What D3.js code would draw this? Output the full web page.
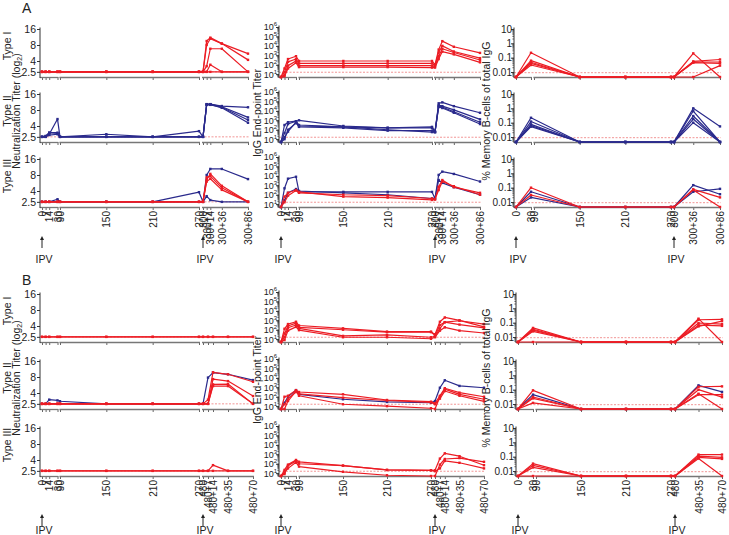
<!DOCTYPE html>
<html><head><meta charset="utf-8">
<script src="https://cdn.jsdelivr.net/npm/d3@7"></script>
<style>
body{margin:0;background:#fff;}
text{font-family:"Liberation Sans",Arial,sans-serif;fill:#222;}
</style></head><body>
<svg id="c" width="729" height="535"></svg>
<script>
// ---------------- DATA ----------------
const daysA = [0,7,14,30,90,150,210,270,300,307,314,336,386];
const labelsA = ["0","7","14","30","90","150","210","270","300","300+7","300+14","300+36","300+86"];
const daysB = [0,7,14,30,90,150,210,270,480,487,494,515,550];
const labelsB = ["0","7","14","30","90","150","210","270","480","480+7","480+14","480+35","480+70"];
const memDaysA = [0,30,150,210,270,300,336,386];
const memTicksA = [0,30,90,150,210,270,300,336,386];
const memLabelsA = ["0","30","90","150","210","270","300","300+36","300+86"];
const memDaysB = [0,30,150,210,270,480,515,550];
const memTicksB = [0,30,90,150,210,270,480,515,550];
const memLabelsB = ["0","30","90","150","210","270","480","480+35","480+70"];
const rowNames = ["Type I","Type II","Type III"];
const neutTicks = [2.5,4,8,16];
const iggTicks = [1e1,1e2,1e3,1e4,1e5,1e6];
const memTicks = [0.01,0.1,1,10];
const neutLOD = 2.5, iggLOD = 16, memLOD = 0.009;

// Section A - neutralization titers
const neutA1Red = [
 [2.5,2.5,2.5,2.5,2.5,2.5,2.5,2.5,2.5,9.5,11,8.5,5.5],
 [2.5,2.5,2.5,2.5,2.5,2.5,2.5,2.5,2.5,8,10.5,8.5,4.2],
 [2.5,2.5,2.5,2.5,2.5,2.5,2.5,2.5,2.5,3.2,6.8,6.8,2.5],
 [2.5,2.5,2.5,2.5,2.5,2.5,2.5,2.5,2.5,2.5,3.4,2.5,2.5],
 [2.5,2.5,2.5,2.5,2.5,2.5,2.5,2.5,2.5,2.5,2.5,2.5,2.5]];
const neutA1Blue = [];
const neutA2Red = [];
const neutA2Blue = [
 [2.5,2.5,2.8,5.4,2.5,2.8,2.5,3.2,2.5,10.3,10.3,9.5,9],
 [2.5,2.5,3.0,3.0,2.5,2.5,2.5,2.5,2.5,10.3,10.3,9.2,5.8],
 [2.5,2.6,3.0,2.9,2.5,2.5,2.5,2.5,2.5,10,10.2,8.8,4.6],
 [2.5,2.5,2.7,2.8,2.5,2.5,2.5,2.5,2.5,10,10,9,5.2]];
const neutA3Red = [
 [2.5,2.5,2.5,2.5,2.5,2.5,2.5,2.5,2.5,6.5,8.4,5.0,2.5],
 [2.5,2.5,2.5,2.5,2.5,2.5,2.5,2.5,2.5,7.2,7.6,4.6,2.5],
 [2.5,2.5,2.5,2.5,2.5,2.5,2.5,2.5,2.5,6.0,6.8,4.2,2.5]];
const neutA3Blue = [
 [2.5,2.5,2.5,2.8,2.5,2.5,2.5,3.8,2.5,8,10.4,10.4,6.7],
 [2.5,2.5,2.5,2.5,2.5,2.5,2.5,2.5,2.5,3.2,2.7,2.5,2.5]];

// Section A - IgG end-point titers
const iggA1Red = [
 [5,40,400,800,250,250,250,250,100,4000,31600,8000,1800],
 [5,16,200,400,140,140,140,140,80,2000,10000,2500,500],
 [5,8,80,250,80,80,80,80,63,800,5000,2000,320],
 [5,6,40,160,56,56,56,50,50,400,2500,1260,180]];
const iggA1Blue = [];
const iggA2Red = [];
const iggA2Blue = [
 [5,316,630,800,1000,250,160,200,63,63000,80000,31600,6300],
 [5,45,400,800,316,200,160,160,56,40000,31600,12600,1260],
 [5,16,63,630,200,160,80,80,56,31600,25000,8000,630],
 [5,10,100,500,250,200,100,56,56,25000,20000,6300,400]];
const iggA3Red = [
 [5,63,160,316,200,63,50,28,32,700,3600,630,160],
 [5,16,80,280,160,100,80,40,32,316,2500,800,100]];
const iggA3Blue = [
 [5,480,5000,8000,200,200,200,200,40,12600,28000,16000,2500],
 [5,25,160,400,250,160,100,40,40,3600,1800,630,100]];

// Section A - % memory B cells
const memA1Red = [
 [0,0.22,0,0,0,0,0.2,0],
 [0,0.062,0,0,0,0,0.055,0.075],
 [0,0.048,0,0,0,0,0.05,0.05],
 [0,0.04,0,0,0,0,0.045,0.04],
 [0,0.031,0,0,0,0,0,0.028]];
const memA1Blue = [];
const memA2Red = [];
const memA2Blue = [
 [0,0.22,0,0,0,0,1.0,0.055],
 [0,0.12,0,0,0,0,0.65,0],
 [0,0.077,0,0,0,0,0.29,0],
 [0,0.062,0,0,0,0,0.18,0],
 [0,0.053,0,0,0,0,0.1,0]];
const memA3Red = [
 [0,0.1,0,0,0,0,0.077,0.021],
 [0,0.031,0,0,0,0,0.07,0]];
const memA3Blue = [
 [0,0.052,0,0,0,0,0.15,0.035],
 [0,0.021,0,0,0,0,0.052,0.083]];

// Section B - neutralization titers
const neutB1Red = [
 [2.5,2.5,2.5,2.5,2.5,2.5,2.5,2.5,2.5,2.5,2.5,2.5,2.5],
 [2.5,2.5,2.5,2.5,2.5,2.5,2.5,2.5,2.5,2.5,2.5,2.5,2.5]];
const neutB1Blue = [];
const neutB2Red = [
 [2.5,2.5,2.5,2.5,2.5,2.5,2.5,2.5,2.5,3.0,9.8,9.0,6.5],
 [2.5,2.5,2.5,2.5,2.5,2.5,2.5,2.5,2.5,2.5,7.3,6.7,3.5],
 [2.5,2.5,2.5,2.5,2.5,2.5,2.5,2.5,2.5,2.5,5.8,5.9,2.5],
 [2.5,2.5,2.5,2.5,2.5,2.5,2.5,2.5,2.5,2.5,5.4,5.4,2.5]];
const neutB2Blue = [
 [2.5,2.5,3.0,2.9,2.8,2.5,2.5,2.5,2.5,7.8,9.7,9.0,7.0]];
const neutB3Red = [
 [2.5,2.5,2.5,2.5,2.5,2.5,2.5,2.5,2.5,2.5,3.2,2.5,2.5],
 [2.5,2.5,2.5,2.5,2.5,2.5,2.5,2.5,2.5,2.5,2.5,2.5,2.5]];
const neutB3Blue = [];

// Section B - IgG end-point titers
const iggB1Red = [
 [5,126,400,700,280,140,63,63,32,700,2000,1000,200],
 [5,40,250,500,180,100,56,56,25,316,630,900,400],
 [5,16,160,316,140,22,28,16,20,140,630,350,160],
 [5,8,80,200,90,16,16,11,16,80,180,80,45]];
const iggB1Blue = [];
const iggB2Red = [
 [5,100,126,500,316,180,45,30,20,126,800,270,100],
 [5,5,35,400,126,16,10,6,5,100,630,180,54],
 [5,16,63,316,200,80,40,25,16,63,400,126,32]];
const iggB2Blue = [
 [5,23,100,500,180,54,28,23,35,900,5500,1400,900]];
const iggB3Red = [
 [5,22,80,250,160,63,22,20,20,350,1260,630,70],
 [5,12,32,140,50,14,6,5,5,80,316,400,160],
 [5,8,63,200,100,63,22,20,16,32,200,126,32]];
const iggB3Blue = [];

// Section B - % memory B cells
const memB1Red = [
 [0,0.043,0,0,0,0,0.19,0],
 [0,0.035,0,0,0,0,0.16,0.17],
 [0,0.03,0,0,0,0,0.095,0.08],
 [0,0.025,0,0,0,0,0.067,0.06],
 [0,0,0,0,0,0,0.055,0.13]];
const memB1Blue = [];
const memB2Red = [
 [0,0.09,0,0,0,0,0.16,0.17],
 [0,0.031,0,0,0,0,0.1,0.03],
 [0,0.025,0,0,0,0,0.052,0],
 [0,0.012,0,0,0,0,0.045,0.045]];
const memB2Blue = [
 [0,0.045,0,0,0,0,0.2,0.07]];
const memB3Red = [
 [0,0.033,0,0,0,0,0.14,0.14],
 [0,0.025,0,0,0,0,0.11,0.09],
 [0,0.018,0,0,0,0,0.09,0.07],
 [0,0,0,0,0,0,0.075,0]];
const memB3Blue = [];

// ---------------- LAYOUT ----------------
const RED = "#ec1c24", BLUE = "#2a2a8c";
const svg = d3.select("#c");

const colConf = {
  neut: {scale: () => d3.scaleLog().base(2).domain([2,16]), h:48, ticks:neutTicks, lod:neutLOD, min:2,
         fmt: d => String(d), minor:false, fs:10.5},
  igg:  {scale: () => d3.scaleLog().domain([5,1e6]), h:50, ticks:iggTicks, lod:iggLOD, min:5,
         fmt: d => "", minor:true, fs:9},
  mem:  {scale: () => d3.scaleLog().domain([0.0045,10]), h:48, ticks:memTicks, lod:memLOD, min:0.0045,
         fmt: d => String(d), minor:true, fs:10}
};

const sections = [
 {name:"A", bottoms:[77,142,207], letterY:13, arrowTop:236, arrowBottom:248, ipvY:263,
  boost:300, last:386,
  days:daysA, labels:labelsA, memDays:memDaysA, memTicks:memTicksA, memLabels:memLabelsA,
  xr:{neut:[42,57.5,60,199,203,248], igg:[281,296,299,432,435,480], mem:[516,531,534,671,674,720]},
  axisX:{neut:40, igg:279, mem:514},
  data:{neut:[[neutA1Red,neutA1Blue],[neutA2Red,neutA2Blue],[neutA3Red,neutA3Blue]],
        igg:[[iggA1Red,iggA1Blue],[iggA2Red,iggA2Blue],[iggA3Red,iggA3Blue]],
        mem:[[memA1Red,memA1Blue],[memA2Red,memA2Blue],[memA3Red,memA3Blue]]}},
 {name:"B", bottoms:[342,409,476], letterY:285, arrowTop:514, arrowBottom:526, ipvY:534,
  boost:480, last:550,
  days:daysB, labels:labelsB, memDays:memDaysB, memTicks:memTicksB, memLabels:memLabelsB,
  xr:{neut:[42,57.5,60,199,203,253], igg:[281,296,299,431,435,484], mem:[518,533,536,671,675,722]},
  axisX:{neut:40, igg:279, mem:516},
  data:{neut:[[neutB1Red,neutB1Blue],[neutB2Red,neutB2Blue],[neutB3Red,neutB3Blue]],
        igg:[[iggB1Red,iggB1Blue],[iggB2Red,iggB2Blue],[iggB3Red,iggB3Blue]],
        mem:[[memB1Red,memB1Blue],[memB2Red,memB2Blue],[memB3Red,memB3Blue]]}}
];

function drawSeries(g, list, days, x, y, ymin, color) {
  const line = d3.line().x((d,i) => x(days[i])).y(d => y(Math.max(d, ymin)));
  list.forEach(vals => {
    g.append("path").attr("d", line(vals)).attr("fill","none")
      .attr("stroke", color).attr("stroke-width", 1.2).attr("stroke-linejoin","round");
    g.append("g").selectAll("rect").data(vals).join("rect")
      .attr("x", (d,i) => x(days[i]) - 1.2).attr("y", d => y(Math.max(d, ymin)) - 1.2)
      .attr("width", 2.4).attr("height", 2.4).attr("fill", color);
  });
}

function drawPanel(sec, colKey, row) {
  const conf = colConf[colKey];
  const bottom = sec.bottoms[row];
  const y = conf.scale().range([bottom, bottom - conf.h]);
  const x = d3.scaleLinear().domain([0,30,90,270,sec.boost,sec.last]).range(sec.xr[colKey]);
  const ax = sec.axisX[colKey];
  const isMem = colKey === "mem";
  const days = isMem ? sec.memDays : sec.days;
  const ticks = isMem ? sec.memTicks : sec.days;
  const labels = isMem ? sec.memLabels : sec.labels;
  const showLabels = row === 2;
  const g = svg.append("g");

  // LOD dashed line
  g.append("line").attr("x1", ax).attr("x2", x(sec.last) + 1)
    .attr("y1", y(conf.lod)).attr("y2", y(conf.lod))
    .attr("stroke", "#f08a8a").attr("stroke-width", 0.9).attr("stroke-dasharray", "2,1.5");

  // x axis (broken)
  const xa = d3.axisBottom(x).tickValues(ticks).tickSize(3)
    .tickFormat((d,i) => showLabels ? labels[i] : "");
  const gx = g.append("g").attr("transform", `translate(0,${bottom})`).call(xa);
  gx.select(".domain").remove();
  gx.selectAll(".tick line").attr("stroke", "#666");
  if (showLabels) {
    gx.selectAll(".tick text").attr("transform","rotate(-90)").attr("x",-4).attr("y",0)
      .attr("dy","0.35em").attr("text-anchor","end").attr("font-size",10).attr("fill","#222");
  }
  const segs = [[ax, x(30) + 0.8], [x(90) - 0.6, x(270) + 1], [x(sec.boost) - 1, x(sec.last) + 1]];
  segs.forEach(s => g.append("line").attr("x1", s[0]).attr("x2", s[1])
    .attr("y1", bottom + 0.5).attr("y2", bottom + 0.5).attr("stroke", "#777").attr("stroke-width", 1.3));

  // y axis
  const ya = d3.axisLeft(y).tickValues(conf.ticks).tickSize(3).tickFormat(conf.fmt);
  const gy = g.append("g").attr("transform", `translate(${ax},0)`).call(ya);
  gy.select(".domain").remove();
  gy.selectAll(".tick line").attr("stroke", "#333");
  gy.selectAll(".tick text").attr("font-size", conf.fs).attr("fill", "#222").attr("x", colKey === "neut" ? -4 : -2);
  if (colKey === "igg") {
    gy.selectAll(".tick text").each(function(d) {
      const t = d3.select(this);
      t.text(null);
      t.append("tspan").text("10");
      t.append("tspan").attr("dy", -4).attr("font-size", 6).text(Math.round(Math.log10(d)));
    });
  }
  if (conf.minor) {
    const dom = y.domain();
    const minors = [];
    for (let e = -3; e <= 6; e++) for (let k = 2; k <= 9; k++) {
      const v = k * Math.pow(10, e);
      if (v >= dom[0] && v <= dom[1]) minors.push(v);
    }
    g.append("g").selectAll("line").data(minors).join("line")
      .attr("x1", ax - 1.6).attr("x2", ax).attr("y1", d => y(d)).attr("y2", d => y(d))
      .attr("stroke", "#333").attr("stroke-width", 0.7);
  }
  g.append("line").attr("x1", ax).attr("x2", ax).attr("y1", bottom + 1).attr("y2", bottom - conf.h - 1.5)
    .attr("stroke", "#333").attr("stroke-width", 1);

  // series
  const [redList, blueList] = sec.data[colKey][row];
  drawSeries(g, blueList, days, x, y, conf.min, BLUE);
  drawSeries(g, redList, days, x, y, conf.min, RED);
  return x;
}

sections.forEach(sec => {
  const xs = {};
  ["neut","igg","mem"].forEach(c => { for (let r = 0; r < 3; r++) xs[c] = drawPanel(sec, c, r); });

  // section letter
  svg.append("text").attr("x", 22).attr("y", sec.letterY).attr("font-size", 14).text(sec.name);

  // row names
  sec.bottoms.forEach((b, r) => {
    const mid = b - 24 - 7;
    svg.append("text").attr("transform", `translate(11,${mid}) rotate(-90)`)
      .attr("text-anchor","middle").attr("font-size", 10.5).text(rowNames[r]);
  });

  const mid2 = sec.bottoms[1] - 24;
  const nt = svg.append("text").attr("transform", `translate(20,${mid2 - 7}) rotate(-90)`)
    .attr("text-anchor","middle").attr("font-size", 10.5);
  nt.append("tspan").text("Neutralization  Titer (log");
  nt.append("tspan").attr("font-size", 7).attr("dy", 2).text("2");
  nt.append("tspan").attr("dy", -2).text(")");

  svg.append("text").attr("transform", `translate(261,${mid2 - 5}) rotate(-90)`)
    .attr("text-anchor","middle").attr("font-size", 10.5).text("IgG End-point Titer");
  svg.append("text").attr("transform", `translate(490,${mid2 - 7}) rotate(-90)`)
    .attr("text-anchor","middle").attr("font-size", 10.5).text("% Memory B-cells of total IgG");

  // IPV arrows
  ["neut","igg","mem"].forEach(c => {
    [0, sec.boost].forEach(t => {
      const xp = xs[c](t);
      svg.append("line").attr("x1", xp).attr("x2", xp).attr("y1", sec.arrowBottom).attr("y2", sec.arrowTop + 3)
        .attr("stroke", "#222").attr("stroke-width", 1);
      svg.append("path").attr("d", `M${xp-2},${sec.arrowTop+4}L${xp},${sec.arrowTop}L${xp+2},${sec.arrowTop+4}Z`)
        .attr("fill", "#222");
      svg.append("text").attr("x", xp + 2).attr("y", sec.ipvY).attr("text-anchor","middle")
        .attr("font-size", 10.5).text("IPV");
    });
  });
});
</script></body></html>
